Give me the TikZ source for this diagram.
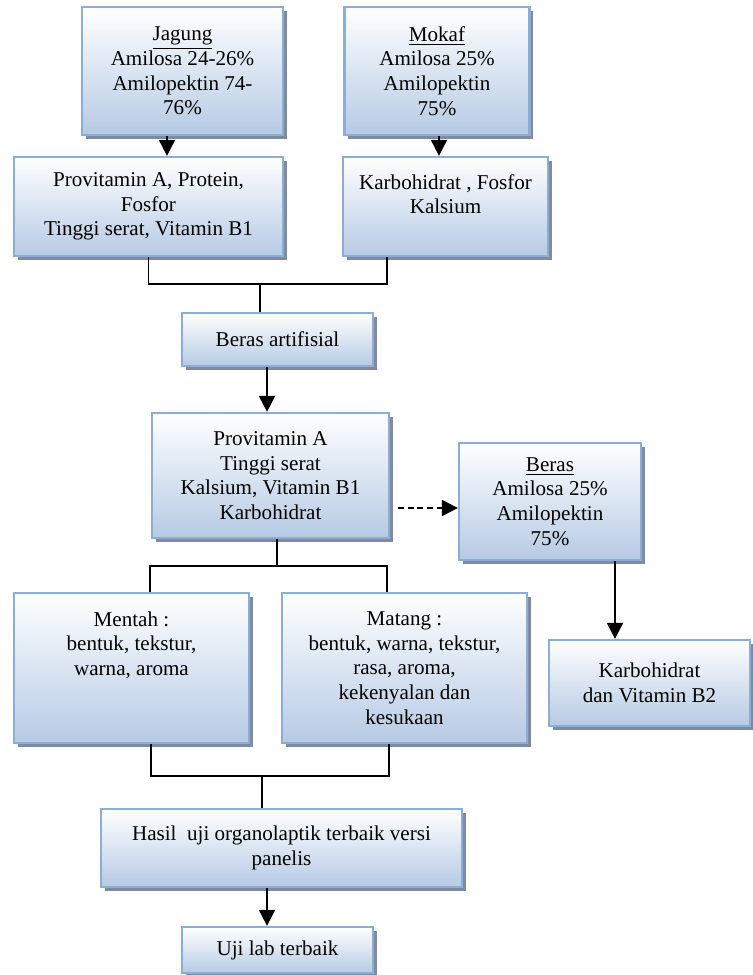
\documentclass[tikz,border=0pt]{standalone}
\usepackage{fontspec}
\setmainfont{Liberation Serif}
\usepackage{xcolor}
\usepackage{tikz}
\usetikzlibrary{arrows.meta, positioning, calc, shadows}
\definecolor{boxline}{RGB}{140,174,214}
\definecolor{boxfill}{RGB}{182,202,228}
\definecolor{boxshade}{RGB}{128,140,158}

\begin{document}
\begin{tikzpicture}[x=0.02cm, y=-0.02cm,
    box/.style={draw=boxline, line width=1.3pt, top color=white, bottom color=boxfill,
      drop shadow={shadow xshift=2.2pt, shadow yshift=-2.4pt, fill=boxshade, opacity=1},
      align=center, inner sep=2pt, font=\fontsize{12}{14}\selectfont},
    arr/.style={-{Triangle[length=3.2mm, width=3.2mm]}, line width=1.1pt},
    link/.style={line width=1.1pt}]
  \useasboundingbox (0,0) rectangle (752,975);

  % bahan baku
  \node[box, minimum width=4.02cm, minimum height=2.56cm] (jagung) at (182.5,71)
    {\underline{Jagung}\\Amilosa 24-26\%\\Amilopektin 74-\\76\%};
  \node[box, minimum width=3.7cm, minimum height=2.56cm] (mokaf) at (437,71)
    {\underline{Mokaf}\\Amilosa 25\%\\Amilopektin\\75\%};
  \node[box, minimum width=5.38cm, minimum height=1.98cm] (zat1) at (148.5,206.5)
    {Provitamin A, Protein,\\Fosfor\\Tinggi serat, Vitamin B1};
  \node[box, minimum width=4.1cm, minimum height=1.98cm] (zat2) at (445.5,206.5)
    {Karbohidrat , Fosfor\\Kalsium\\~};

  % beras artifisial
  \node[box, minimum width=3.82cm, minimum height=1.06cm] (artifisial) at (277.5,339.5)
    {Beras artifisial};
  \node[box, minimum width=4.74cm, minimum height=2.5cm] (gizi) at (270.5,475.5)
    {Provitamin A\\Tinggi serat\\Kalsium, Vitamin B1\\Karbohidrat};
  \node[box, minimum width=3.64cm, minimum height=2.34cm] (beras) at (550,501.5)
    {\underline{Beras}\\Amilosa 25\%\\Amilopektin\\75\%};
  \node[box, minimum width=4.02cm, minimum height=1.72cm] (b2) at (649.5,683)
    {Karbohidrat\\dan Vitamin B2};

  % uji organoleptik
  \node[box, minimum width=4.7cm, minimum height=3.0cm] (mentah) at (131.5,668)
    {Mentah :\\bentuk, tekstur,\\warna, aroma\\~\\~};
  \node[box, minimum width=4.9cm, minimum height=3.0cm] (matang) at (404.5,668)
    {Matang :\\bentuk, warna, tekstur,\\rasa, aroma,\\kekenyalan dan\\kesukaan};
  \node[box, minimum width=7.22cm, minimum height=1.56cm] (hasil) at (281.5,848)
    {Hasil\ \ uji organolaptik terbaik versi\\panelis};
  \node[box, minimum width=3.82cm, minimum height=0.92cm] (ujilab) at (277.5,950)
    {Uji lab terbaik};

  % penghubung
  \coordinate (m1) at (260,284);
  \coordinate (m2) at (277,566);
  \coordinate (m3) at (262,776);
  \coordinate (d1) at (398,508);

  \draw[arr] ([xshift=-0.31cm]jagung.south) -- ([xshift=-0.31cm]jagung.south |- zat1.north);
  \draw[arr] ([xshift=0.04cm]mokaf.south) -- ([xshift=0.04cm]mokaf.south |- zat2.north);
  \draw[link] (zat1.south) |- (m1) -| ([xshift=-1.17cm]zat2.south);
  \draw[link] (m1) -- (m1 |- artifisial.north);
  \draw[arr] ([xshift=-0.21cm]artifisial.south) -- ([xshift=-0.21cm]artifisial.south |- gizi.north);
  \draw[arr, dash pattern=on 3.5pt off 2pt] (d1) -- (d1 -| beras.west);
  \draw[arr] ([xshift=1.3cm]beras.south) -- ([xshift=1.3cm]beras.south |- b2.north);
  \draw[link] ([xshift=0.13cm]gizi.south) -- (m2);
  \draw[link] ([xshift=0.37cm]mentah.north) |- (m2) -| ([xshift=-0.35cm]matang.north);
  \draw[link] ([xshift=0.39cm]mentah.south) |- (m3) -| ([xshift=-0.31cm]matang.south);
  \draw[link] (m3) -- (m3 |- hasil.north);
  \draw[arr] ([xshift=-0.29cm]hasil.south) -- ([xshift=-0.29cm]hasil.south |- ujilab.north);
\end{tikzpicture}
\end{document}
